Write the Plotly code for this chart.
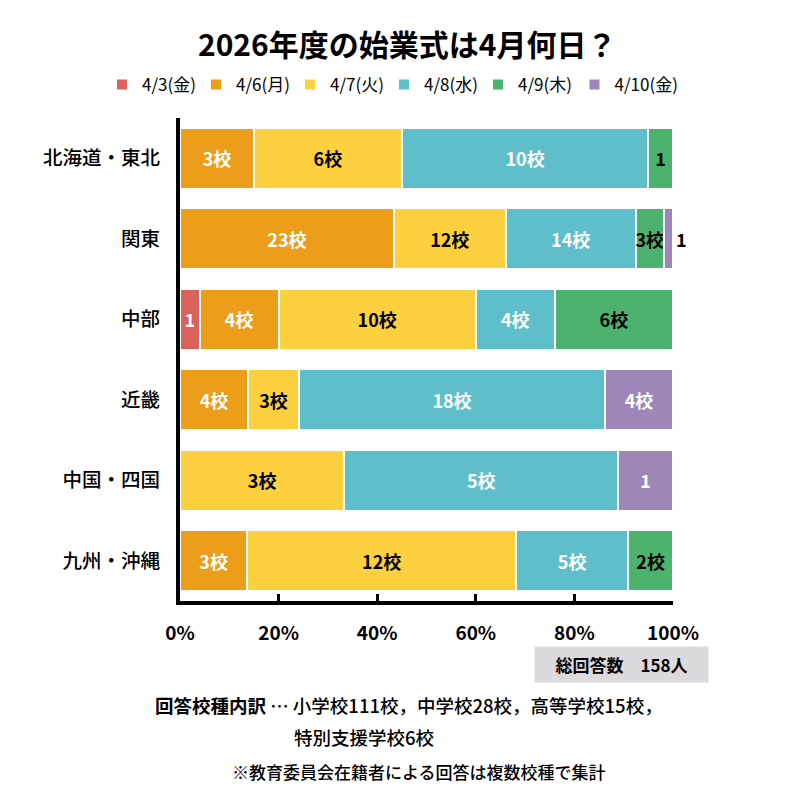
import plotly.graph_objects as go

FONT = "Noto Sans CJK JP"

regions = ["北海道・東北", "関東", "中部", "近畿", "中国・四国", "九州・沖縄"]
dates = ["4/3(金)", "4/6(月)", "4/7(火)", "4/8(水)", "4/9(木)", "4/10(金)"]

d_0403 = [0, 0, 1, 0, 0, 0]
d_0406 = [3, 23, 4, 4, 0, 3]
d_0407 = [6, 12, 10, 3, 3, 12]
d_0408 = [10, 14, 4, 18, 5, 5]
d_0409 = [1, 3, 6, 0, 0, 2]
d_0410 = [0, 1, 0, 4, 1, 0]

x_ticks = [0, 20, 40, 60, 80, 100]
x_tick_labels = ["0%", "20%", "40%", "60%", "80%", "100%"]

series = [d_0403, d_0406, d_0407, d_0408, d_0409, d_0410]
colors = ["#D9625A", "#EC9D19", "#FCD03F", "#5EBFCB", "#4BB36D", "#9E86B8"]
text_colors = ["white", "white", "black", "white", "black", "white"]

total_answers = 158
breakdown_label = "回答校種内訳"
breakdown_1 = "小学校111校，中学校28校，高等学校15校，"
breakdown_2 = "特別支援学校6校"
note = "※教育委員会在籍者による回答は複数校種で集計"

row_totals = [sum(s[i] for s in series) for i in range(len(regions))]

L, R, T, B = 180, 127, 118, 199
PW, PH = 800 - L - R, 800 - T - B


def px_x(px):
    return (px - L) / PW


def px_y(py):
    return (800 - B - py) / PH


fig = go.Figure()
for k, (name, vals, col, tcol) in enumerate(zip(dates, series, colors, text_colors)):
    labels = ["" if not v else ("1" if v == 1 else f"{v}校") for v in vals]
    is_last_trace = k == len(series) - 1
    if is_last_trace:
        # a very thin last segment carries its label outside the bar end
        positions = ["outside" if (v and v / row_totals[i] < 0.03) else "inside"
                     for i, v in enumerate(vals)]
    else:
        positions = ["inside"] * len(vals)
    fig.add_trace(go.Bar(
        y=regions, x=vals, name=name, orientation="h",
        legend="legend2" if is_last_trace else "legend",
        marker=dict(color=col, line=dict(color="white", width=2)),
        text=labels, textposition=positions, textangle=0,
        insidetextanchor="middle", constraintext="none",
        cliponaxis=not is_last_trace,
        insidetextfont=dict(family=FONT, size=18, color=tcol),
        outsidetextfont=dict(family=FONT, size=18, color="black"),
        texttemplate="<b>%{text}</b>",
        hoverinfo="skip",
    ))

LEG_X0 = 102
LEG_PITCH = 94.5
legend_common = dict(orientation="h", xref="paper", yref="paper",
                     xanchor="left", y=px_y(85), yanchor="middle",
                     font=dict(family=FONT, size=17, color="black"),
                     traceorder="normal", itemclick=False, itemdoubleclick=False)

fig.update_layout(
    width=800, height=800,
    margin=dict(l=L, r=R, t=T, b=B),
    barmode="stack", barnorm="percent", bargap=0.24,
    paper_bgcolor="white", plot_bgcolor="white",
    font=dict(family=FONT, color="black"),
    title=dict(text="<b>2026年度の始業式は4月何日？</b>", x=0.509, xref="container",
               xanchor="center", y=1 - 45 / 800, yanchor="middle",
               font=dict(family=FONT, size=30, color="black")),
    legend=dict(x=px_x(LEG_X0), entrywidth=49, entrywidthmode="pixels", **legend_common),
    legend2=dict(x=px_x(LEG_X0 + 5 * LEG_PITCH), **legend_common),
    xaxis=dict(range=[0, 100.0001], tickmode="array", tickvals=x_ticks,
               ticktext=[f"<b>{t}</b>" for t in x_tick_labels],
               showgrid=False, zeroline=False, showline=True, linewidth=4, linecolor="black",
               ticks="inside", ticklen=7, tickwidth=3, tickcolor="black",
               ticklabelstandoff=12,
               tickfont=dict(family=FONT, size=19, color="black")),
    yaxis=dict(categoryorder="array", categoryarray=regions, autorange="reversed",
               showgrid=False, zeroline=False, showline=True, linewidth=4, linecolor="black",
               ticks="", ticklabelstandoff=12,
               tickfont=dict(family=FONT, size=19.5, color="black", weight=500)),
    annotations=[
        dict(text=f"<b>総回答数　{total_answers}人</b>", xref="paper", yref="paper",
             x=px_x(621.5), y=px_y(664.5), xanchor="center", yanchor="middle",
             showarrow=False, bgcolor="#DCDADC", width=171, height=33,
             font=dict(family=FONT, size=17, color="black")),
        dict(text=f"<b>{breakdown_label}</b> … {breakdown_1}", xref="paper", yref="paper",
             x=px_x(153), y=px_y(705), xanchor="left", yanchor="middle", showarrow=False,
             font=dict(family=FONT, size=18.5, color="black", weight=500)),
        dict(text=breakdown_2, xref="paper", yref="paper",
             x=px_x(292), y=px_y(737), xanchor="left", yanchor="middle", showarrow=False,
             font=dict(family=FONT, size=18.5, color="black", weight=500)),
        dict(text=note, xref="paper", yref="paper",
             x=px_x(418.5), y=px_y(771), xanchor="center", yanchor="middle", showarrow=False,
             font=dict(family=FONT, size=17, color="black", weight=500)),
    ],
)

fig.write_html("out.html")
